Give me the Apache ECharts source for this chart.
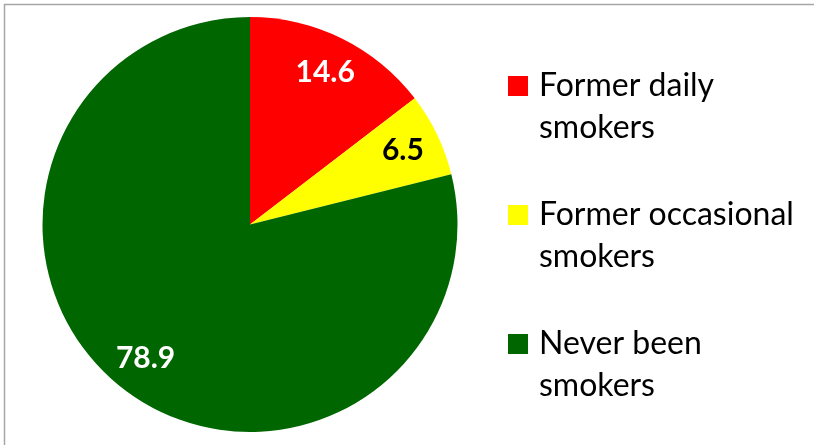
<!DOCTYPE html>
<html>
<head>
<meta charset="utf-8">
<script src="https://cdn.jsdelivr.net/npm/echarts@6/dist/echarts.min.js"></script>
<style>
  html, body { margin: 0; padding: 0; background: #fff; }
  #chart { width: 814px; height: 445px; }
</style>
</head>
<body>
<div id="chart"></div>
<script>
// Smoking status shares (%)
const categories = ['Former daily\nsmokers', 'Former occasional\nsmokers', 'Never been\nsmokers'];
const shares = [14.6, 6.5, 78.9];
const sliceColors = ['#FF0000', '#FFFF00', '#006600'];
const labelColors = ['#FFFFFF', '#000000', '#FFFFFF'];

const FONT = 'Lato, "Open Sans", sans-serif';
const CENTER = [250, 224.5];
const RADIUS = 207.5;

const sliceData = categories.map((name, i) => ({
  name: name,
  value: shares[i],
  itemStyle: { color: sliceColors[i] }
}));

const labelData = categories.map((name, i) => ({
  name: name,
  value: shares[i],
  itemStyle: { color: 'rgba(0,0,0,0)' },
  label: { color: labelColors[i] }
}));

// Legend marker: square aligned with the first text line, spare room to the right
const legendIcon = 'path://M0,0M26,84M0,11L20,11L20,31L0,31Z';

const chart = echarts.init(document.getElementById('chart'), null, { renderer: 'canvas' });
chart.setOption({
  animation: false,
  backgroundColor: '#ffffff',
  graphic: [{
    type: 'rect',
    shape: { x: 4.5, y: 4.5, width: 840, height: 470 },
    style: { fill: 'none', stroke: '#a6a6a6', lineWidth: 1.5 },
    silent: true,
    z: 0
  }],
  legend: {
    orient: 'vertical',
    left: 503,
    top: 60,
    itemWidth: 26,
    itemHeight: 84,
    itemGap: 45,
    icon: legendIcon,
    itemStyle: { borderWidth: 0 },
    data: categories,
    textStyle: {
      fontFamily: FONT,
      fontSize: 32,
      lineHeight: 42,
      color: '#000000'
    },
    selectedMode: false
  },
  series: [
    {
      type: 'pie',
      center: CENTER,
      radius: [0, RADIUS],
      startAngle: 90,
      clockwise: true,
      silent: true,
      label: { show: false },
      labelLine: { show: false },
      itemStyle: { borderWidth: 0 },
      emphasis: { disabled: true },
      data: sliceData
    },
    {
      // transparent ring carrying the value labels
      type: 'pie',
      center: CENTER,
      radius: [126, RADIUS],
      startAngle: 90,
      clockwise: true,
      silent: true,
      z: 3,
      label: {
        show: true,
        position: 'inside',
        formatter: (p) => p.value.toFixed(1),
        fontFamily: FONT,
        fontSize: 30,
        fontWeight: 'bold'
      },
      labelLine: { show: false },
      itemStyle: { borderWidth: 0 },
      emphasis: { disabled: true },
      data: labelData
    }
  ]
});
</script>
</body>
</html>
